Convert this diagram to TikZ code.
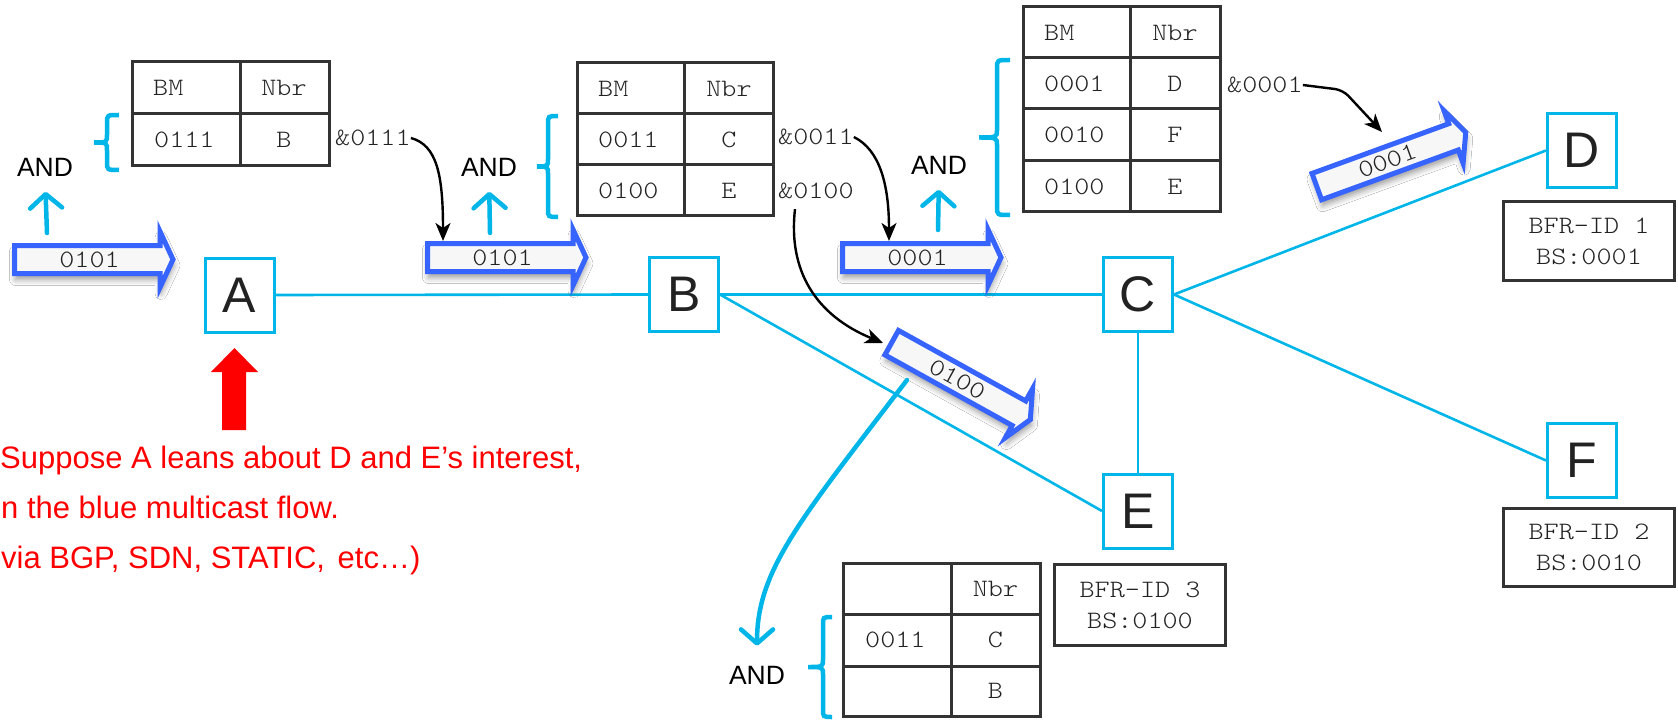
\documentclass[tikz,border=0pt]{standalone}
\usepackage{fontspec}
\setmainfont{Liberation Sans}
\newfontfamily\codefont{lmmonolt10-regular}[Extension=.otf, FakeStretch=1.15]
\usetikzlibrary{arrows.meta,shadows.blur}

\definecolor{linkcyan}{RGB}{0,182,232}
\definecolor{flowblue}{RGB}{55,100,255}
\definecolor{tabgray}{RGB}{51,51,51}
\definecolor{inkgray}{RGB}{34,34,34}

\tikzset{
  router/.style={draw=linkcyan, line width=3pt, minimum width=69pt, minimum height=74pt,
    inner sep=0pt, font=\fontsize{50}{60}\selectfont, text=inkgray},
  link/.style={draw=linkcyan, line width=2.6pt},
  tablegrid/.style={draw=tabgray, line width=3pt},
  celltext/.style={font=\codefont\fontsize{25}{31}\selectfont, text=inkgray, inner sep=0pt},
  idbox/.style={draw=tabgray, line width=3pt, minimum width=171pt, minimum height=78pt,
    align=center, font=\codefont\fontsize{25}{31}\selectfont, text=inkgray},
  andlabel/.style={font=\fontsize{26.5}{30}\selectfont, inner sep=0pt},
  andarrow/.style={draw=linkcyan, line width=4.5pt, line cap=round,
    -{Straight Barb[length=14pt,width=32pt,round]}},
  bracketline/.style={draw=linkcyan, line width=4.5pt},
  pointer/.style={draw=black, line width=2.4pt, -{Stealth[length=18pt,width=15pt,inset=5pt]}},
  flowbody/.style={draw=flowblue, line width=5pt, fill=white!97!black, miter limit=10,
    blur shadow={shadow xshift=1pt, shadow yshift=-6pt, shadow blur radius=6pt, shadow opacity=40}},
  remark/.style={text=red, font=\fontsize{31}{37}\selectfont, inner sep=0pt, anchor=base west},
}

% hollow block arrow carrying a bit string: name, tail point, angle, label
\newcommand\flowarrow[4]{%
  \begin{scope}[shift={#2}, rotate=#3]
    \draw[flowbody] (0,-14) -- (145.5,-14) -- (145.5,-28) -- (158.5,0)
      -- (145.5,28) -- (145.5,14) -- (0,14) -- cycle;
    \node[celltext, rotate=#3] (#1) at (75,0) {#4};
  \end{scope}}

% cyan bracket: hook x, spine x, tip x, top y, bottom y
\newcommand\cbracket[5]{%
  \draw[bracketline] (#1,#4) .. controls (#2,#4) .. (#2,#4+8)
    -- (#2,{(#4+#5)/2-8}) .. controls (#2,{(#4+#5)/2}) .. (#3,{(#4+#5)/2})
    .. controls (#2,{(#4+#5)/2}) .. (#2,{(#4+#5)/2+8})
    -- (#2,#5-8) .. controls (#2,#5) .. (#1,#5);}

\begin{document}
\begin{tikzpicture}[x=1pt, y=-1pt]
\fill[white] (0,0) rectangle (1678,722);
\useasboundingbox (0,0) rectangle (1678,722);

% routers
\node[router] (A) at (239.5,295) {A};
\node[router] (B) at (684,294.5) {B};
\node[router] (C) at (1138,294.5) {C};
\node[router] (D) at (1582,150.5) {D};
\node[router] (E) at (1138,511) {E};
\node[router] (F) at (1582,460.5) {F};

% links
\draw[link] (A.east) -- (B.west);
\draw[link] (B.east) -- (C.west);
\draw[link] (B.east) -- (E.west);
\draw[link] (C.south) -- (E.north);
\draw[link] (C.east) -- (D.west);
\draw[link] (C.east) -- (F.west);

% bit-string identities
\node[idbox] (idD) at (1589,241) {BFR-ID 1\\BS:0001};
\node[idbox] (idF) at (1589,547) {BFR-ID 2\\BS:0010};
\node[idbox, minimum height=81pt] (idE) at (1140,605) {BFR-ID 3\\BS:0100};

% forwarding table at A
\draw[tablegrid] (132,62) rectangle (329,166) (132,114) -- (329,114) (240,62) -- (240,166);
\node[celltext, anchor=west] (t1h1) at (153,88) {BM};
\node[celltext] (t1h2) at (284,88) {Nbr};
\node[celltext, anchor=west] (t1a) at (154,140) {0111};
\node[celltext] (t1b) at (284,140) {B};
\cbracket{119}{107}{94}{115}{170}

% forwarding table at B
\draw[tablegrid] (577,63) rectangle (773,216) (577,114) -- (773,114) (577,165) -- (773,165)
  (684,63) -- (684,216);
\node[celltext, anchor=west] (t2h1) at (598,88.5) {BM};
\node[celltext] (t2h2) at (729,88.5) {Nbr};
\node[celltext, anchor=west] (t2a) at (598,139.5) {0011};
\node[celltext] (t2b) at (729,139.5) {C};
\node[celltext, anchor=west] (t2c) at (598,190.5) {0100};
\node[celltext] (t2d) at (729,190.5) {E};
\cbracket{558}{548}{537}{116}{217}

% forwarding table at C
\draw[tablegrid] (1023,7) rectangle (1220,212) (1023,58) -- (1220,58) (1023,109) -- (1220,109)
  (1023,161) -- (1220,161) (1130,7) -- (1130,212);
\node[celltext, anchor=west] (t3h1) at (1044,32.5) {BM};
\node[celltext] (t3h2) at (1175,32.5) {Nbr};
\node[celltext, anchor=west] (t3a) at (1044,83.5) {0001};
\node[celltext] (t3b) at (1175,83.5) {D};
\node[celltext, anchor=west] (t3c) at (1044,135) {0010};
\node[celltext] (t3d) at (1175,135) {F};
\node[celltext, anchor=west] (t3e) at (1044,186.5) {0100};
\node[celltext] (t3f) at (1175,186.5) {E};
\cbracket{1010}{997}{979}{60}{215}

% forwarding table at E
\draw[tablegrid] (843,563) rectangle (1040,716) (843,614) -- (1040,614) (843,666) -- (1040,666)
  (951,563) -- (951,716);
\node[celltext] (t4h2) at (995.5,588.5) {Nbr};
\node[celltext, anchor=west] (t4a) at (865,640) {0011};
\node[celltext] (t4b) at (995.5,640) {C};
\node[celltext] (t4d) at (995.5,691) {B};
\cbracket{832}{823}{808}{617}{717}

% packets in flight
\flowarrow{f1}{(14.5,259.5)}{0}{0101}
\flowarrow{f2}{(427.5,257.5)}{0}{0101}
\flowarrow{f3}{(842.5,257.5)}{0}{0001}
\flowarrow{f4}{(1316.8,186.6)}{20}{0001}
\flowarrow{f5}{(891.7,342.7)}{-29}{0100}

% AND operations
\node[andlabel] (and1) at (45,167) {AND};
\node[andlabel] (and2) at (489,167) {AND};
\node[andlabel] (and3) at (939,165) {AND};
\node[andlabel] (and4) at (757,675) {AND};
\coordinate (u1) at (47,233);
\coordinate (u2) at (490,233);
\coordinate (u3) at (938,230);
\coordinate (c5) at (907,380);
\draw[andarrow, shorten >=15.5pt] (u1) -- (and1.south);
\draw[andarrow, shorten >=15.5pt] (u2) -- (and2.south);
\draw[andarrow, shorten >=15.5pt] (u3) -- (and3.south);
\draw[andarrow, shorten >=20pt] (c5) .. controls (800,520) and (757,570) .. (and4.north);

% masked bit strings
\node[celltext, anchor=west] (a0111) at (335,138) {\&0111};
\node[celltext, anchor=west] (a0011) at (778,137) {\&0011};
\node[celltext, anchor=west] (a0100) at (778,191) {\&0100};
\node[celltext, anchor=west] (a0001) at (1227,85) {\&0001};
\coordinate (in2) at (443,241);
\coordinate (in3) at (889,241);
\coordinate (in4) at (1382,132);
\coordinate (in5) at (883,343);
\draw[pointer] (a0111.east) .. controls (437,145) and (443,175) .. (in2);
\draw[pointer] (a0011.east) .. controls (880,150) and (889,185) .. (in3);
\draw[pointer] ([xshift=17pt,yshift=-10pt]a0100.south west) .. controls (788,270) and (815,315) .. (in5);
\draw[pointer, rounded corners=8pt] (a0001.east) -- ++(40,5) -- (in4);

% ingress note
\fill[red] (222,430) -- (222,372) -- (211,372) -- (234.5,348) -- (258,372) -- (246,372)
  -- (246,430) -- cycle;
\node[remark] (n1) at (0,468) {Suppose A leans about D and E’s interest,};
\node[remark] (n2) at (1,518) {n the blue multicast flow.};
\node[remark] (n3) at (1,568) {via BGP, SDN, STATIC,\hspace{4pt} etc…)};
\end{tikzpicture}
\end{document}
